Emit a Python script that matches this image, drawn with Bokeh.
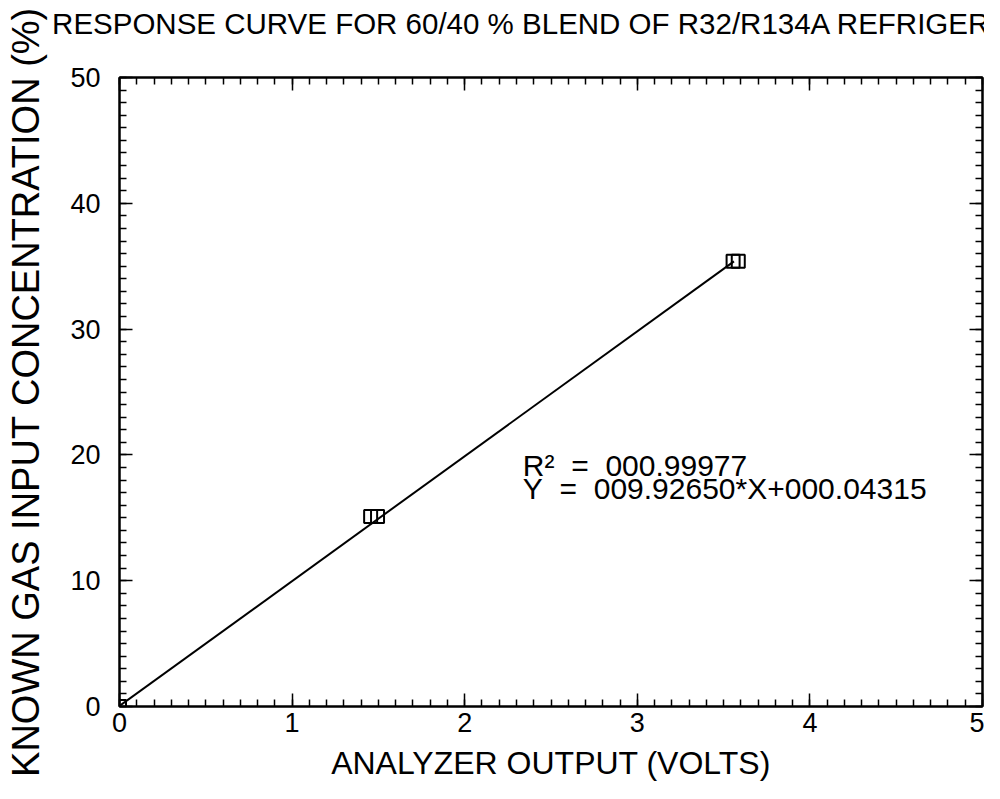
from bokeh.plotting import figure
from bokeh.models import Range1d, LinearAxis, SingleIntervalTicker, Label, CustomJSTickFormatter
from bokeh.embed import file_html
from bokeh.resources import INLINE

# ---- data ----
volts = [0.0, 1.455, 1.495, 3.555, 3.585]          # analyzer output (V)
conc = [0.0, 15.1, 15.1, 35.4, 35.4]               # known gas input concentration (%)
fit_slope = 9.92650
fit_intercept = 0.04315
fit_r2 = 0.99977
fit_x = [0.0, 3.56]
fit_y = [fit_slope * v + fit_intercept for v in fit_x]

title_text = "RESPONSE CURVE FOR 60/40 % BLEND OF R32/R134A REFRIGERANT"
x_label = "ANALYZER OUTPUT (VOLTS)"
y_label = "KNOWN GAS INPUT CONCENTRATION (%)"
NB = "\u00a0"
r2_text = "R\u00b2" + NB * 2 + "=" + NB * 2 + "000.99977"
eq_text = "Y" + NB * 2 + "=" + NB * 2 + "009.92650*X+000.04315"

FONT = "Liberation Sans"

p = figure(width=984, height=783, x_range=Range1d(0, 5), y_range=Range1d(0, 50),
           output_backend="svg", toolbar_location=None,
           min_border_left=119, min_border_right=2, min_border_top=77, min_border_bottom=76,
           x_axis_label=x_label, y_axis_label=y_label)

p.grid.visible = False
p.outline_line_color = "black"
p.outline_line_width = 2
p.background_fill_color = "white"
p.border_fill_color = "white"

def style_axis(ax, show_labels=True):
    ax.axis_line_width = 2
    ax.axis_line_color = "black"
    ax.major_tick_in = 13
    ax.major_tick_out = 0
    ax.minor_tick_in = 7
    ax.minor_tick_out = 0
    ax.major_tick_line_width = 1.5
    ax.minor_tick_line_width = 1.5
    ax.major_label_text_font = FONT
    ax.axis_label_text_font = FONT
    ax.axis_label_text_font_style = "normal"
    ax.major_label_text_color = "black"
    ax.axis_label_text_color = "black"
    if not show_labels:
        ax.formatter = CustomJSTickFormatter(code="return ''")
        ax.major_label_standoff = 0

xt = SingleIntervalTicker(interval=1, num_minor_ticks=10)
yt = SingleIntervalTicker(interval=10, num_minor_ticks=10)

xa = p.xaxis[0]
xa.ticker = xt
style_axis(xa)
xa.major_label_text_font_size = "27px"
xa.major_label_standoff = 6
xa.axis_label_text_font_size = "32px"
xa.axis_label_standoff = 10

ya = p.yaxis[0]
ya.ticker = yt
style_axis(ya)
ya.major_label_text_font_size = "27px"
ya.major_label_standoff = 19
ya.axis_label_text_font_size = "38px"
ya.axis_label_standoff = 20

# top axis: mirrored ticks, carries the chart title as its label
top_ax = LinearAxis(ticker=SingleIntervalTicker(interval=1, num_minor_ticks=10),
                    axis_label=title_text)
style_axis(top_ax, show_labels=False)
top_ax.axis_label_text_font_size = "29.5px"
top_ax.axis_label_standoff = 38
p.add_layout(top_ax, "above")

right_ax = LinearAxis(ticker=SingleIntervalTicker(interval=10, num_minor_ticks=10))
style_axis(right_ax, show_labels=False)
p.add_layout(right_ax, "right")

# regression line
p.line(fit_x, fit_y, line_color="black", line_width=2)

# data points
p.scatter(volts, conc, marker="square", size=13, fill_color=None,
          line_color="black", line_width=2)

# fit annotation
p.add_layout(Label(x=2.337, y=19.15, text=r2_text, text_font=FONT,
                   text_font_size="30px", text_color="black", text_baseline="alphabetic"))
p.add_layout(Label(x=2.337, y=17.33, text=eq_text, text_font=FONT,
                   text_font_size="30px", text_color="black", text_baseline="alphabetic"))

open("out.html", "w").write(file_html(p, INLINE))
